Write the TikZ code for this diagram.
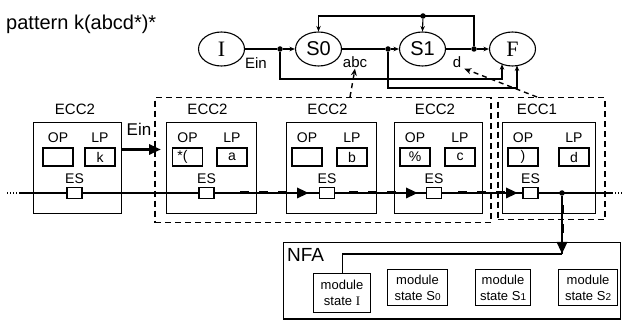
\documentclass[tikz,border=0pt]{standalone}
\usepackage{fontspec}
\setmainfont{Liberation Sans}
\newfontfamily\seriffont{Liberation Serif}
\usetikzlibrary{shapes.geometric,arrows.meta,calc}
\newcommand{\fsz}[1]{\fontsize{#1}{#1}\selectfont}
\begin{document}
\begin{tikzpicture}[x=1pt,y=-1pt,
  st/.style={ellipse,draw,line width=1.1pt,minimum width=46pt,minimum height=34pt,inner sep=0pt},
  ln/.style={line width=1.1pt},
  sarr/.style={ln,-{Stealth[length=5.5pt,width=4.5pt]}},
  dotn/.style={circle,fill,inner sep=0pt,minimum size=5.5pt},
  blk/.style={draw,line width=1.1pt,minimum height=91pt,anchor=north west,inner sep=0pt},
  bx/.style={draw,line width=1.1pt,minimum width=30pt,minimum height=18pt,inner sep=0pt,font=\fsz{14}},
  esb/.style={draw,fill=white,line width=1.1pt,minimum width=15pt,minimum height=11pt,inner sep=0pt},
  lbl/.style={inner sep=0pt,font=\fsz{14}},
  grp/.style={draw,line width=1.5pt,dash pattern=on 6pt off 4pt,anchor=north west,inner sep=0pt},
  tda/.style={line width=3pt,dash pattern=on 9pt off 10pt,-{Triangle[length=12pt,width=10pt]}},
  thk/.style={line width=3pt,-{Triangle[length=12pt,width=10pt]}},
  dsa/.style={line width=1.4pt,dash pattern=on 5pt off 4pt,-{Stealth[length=7pt,width=6pt]}},
  mod/.style={draw,line width=1.1pt,align=center,inner sep=0pt,anchor=north west,font=\fontsize{13}{16}\selectfont}
]
\useasboundingbox (0,0) rectangle (624,320);

% title
\node[inner sep=0pt,anchor=base west,font=\fsz{20}] (title) at (6,30) {pattern k(abcd*)*};

% state diagram
\node[st,font=\seriffont\fsz{22}] (I) at (221.5,49) {I};
\node[st,font=\fsz{20}] (S0) at (318.5,49) {S0};
\node[st,font=\fsz{20}] (S1) at (422.5,49) {S1};
\node[st,font=\seriffont\fsz{22}] (F) at (512.5,49) {F};

\node[dotn] (d1) at (280,49) {};
\node[dotn] (d2) at (388,49) {};
\node[dotn] (d3) at (474,49) {};
\node[dotn] (d4) at (423,16) {};

\draw[ln] (I.east) -- (d1);
\draw[sarr] (d1) -- (S0.west);
\draw[ln] (S0.east) -- (d2);
\draw[sarr] (d2) -- (S1.west);
\draw[ln] (S1.east) -- (d3);
\draw[sarr] (d3) -- (F.west);
\draw[sarr] (d3) |- (S0.north |- d4) -- (S0.north);
\draw[sarr] (d4) -- (S1.north);

\coordinate (f1) at ($(F.center)+(-10.5,15.2)$);
\coordinate (f2) at ($(F.center)+(4.5,16.5)$);
\draw[sarr] (d1) |- (f1 |- 0,79) -- (f1);
\draw[sarr] (d2) |- (f2 |- 0,88) -- (f2);

\node[lbl,font=\fsz{15}] (ein1) at (256,63) {Ein};
\node[lbl,font=\fsz{15}] (abc) at (355,62) {abc};
\node[lbl,font=\fsz{15}] (dl) at (457,62) {d};

% groups
\node[grp,minimum width=336pt,minimum height=125pt] (g1) at (154,97) {};
\node[grp,minimum width=107pt,minimum height=122pt] (g2) at (497,97) {};

\coordinate (ga) at (350,97);
\coordinate (gd) at (537,97);
\draw[dsa] (ga) -- ($(abc.south)+(0,1)$);
\draw[dsa] (gd) -- ($(dl.south east)+(3,1)$);

% main line
\coordinate (ml) at (20,193);
\coordinate (mr) at (612,193);
\coordinate (mll) at (7,193);
\coordinate (mrr) at (623,193);
\draw[ln] (ml) -- (mr);
\draw[line width=1.1pt,dash pattern=on 1pt off 2pt] (mll) -- (ml);
\draw[line width=1.1pt,dash pattern=on 1pt off 2pt] (mr) -- (mrr);

% blocks
\node[blk,minimum width=88pt] (b1) at (33,122) {};
\node[blk,minimum width=90pt] (b2) at (166,122) {};
\node[blk,minimum width=90pt] (b3) at (286,122) {};
\node[blk,minimum width=88pt] (b4) at (394,122) {};
\node[blk,minimum width=93pt] (b5) at (502,122) {};

\node[lbl,font=\fsz{15}] (e1) at (75,109) {ECC2};
\node[lbl,font=\fsz{15}] (e2) at (207.5,109) {ECC2};
\node[lbl,font=\fsz{15}] (e3) at (327.5,109) {ECC2};
\node[lbl,font=\fsz{15}] (e4) at (435,109) {ECC2};
\node[lbl,font=\fsz{15}] (e5) at (537,109) {ECC1};

\foreach \n/\o/\l/\e/\ot/\lt in {1/58/100/74.5/{}/k, 2/187.5/232/206.5/{\hspace*{-10pt}*(}/a, 3/307/352/327/{}/b, 4/415/460/434/{\%}/c, 5/523/574/530.5/{)}/d}{
  \node[lbl] (opl\n) at (\o,138) {OP};
  \node[lbl] (lpl\n) at (\l,138) {LP};
  \node[bx] (op\n) at (\o,157) {\ot};
  \node[bx] (lp\n) at (\l,157) {\lt};
  \node[lbl] (esl\n) at (\e,179) {ES};
  \node[esb] (es\n) at (\e,193) {};
}

% Ein arrow
\coordinate (eint) at (161,149.5);
\draw[thk] (b1.east |- eint) -- (eint);
\node[lbl,font=\fsz{17}] (ein2) at (139,129) {Ein};

% thick dashed arrows
\coordinate (a1s) at (240,193); \coordinate (a1e) at (309,193);
\coordinate (a2s) at (349,193); \coordinate (a2e) at (418,193);
\coordinate (a3s) at (458,193); \coordinate (a3e) at (518,193);
\draw[tda] (a1s) -- (a1e);
\draw[tda] (a2s) -- (a2e);
\draw[tda] (a3s) -- (a3e);

% NFA
\node[draw,line width=1.1pt,anchor=north west,minimum width=337pt,minimum height=76.5pt,inner sep=0pt] (nfa) at (283,242) {};
\node[inner sep=0pt,anchor=west,font=\fsz{19}] (nfal) at (287,255) {NFA};

\node[mod,minimum width=57pt,minimum height=39pt] (mI) at (313,273) {module\\state {\seriffont I}};
\node[mod,minimum width=60pt,minimum height=36pt] (mS0) at (387,269) {module\\state S{\fsz{10}0}};
\node[mod,minimum width=55pt,minimum height=36pt] (mS1) at (475,269) {module\\state S{\fsz{10}1}};
\node[mod,minimum width=59pt,minimum height=36pt] (mS2) at (558,269) {module\\state S{\fsz{10}2}};

\node[dotn] (d5) at (562,193) {};
\coordinate (nt) at (562,254);
\coordinate (vs) at (562,205);
\draw[ln] (d5) -- (nt);
\draw[tda] (vs) -- (nt);
\draw[ln] (nt) -| (mI.north);
\end{tikzpicture}
\end{document}
